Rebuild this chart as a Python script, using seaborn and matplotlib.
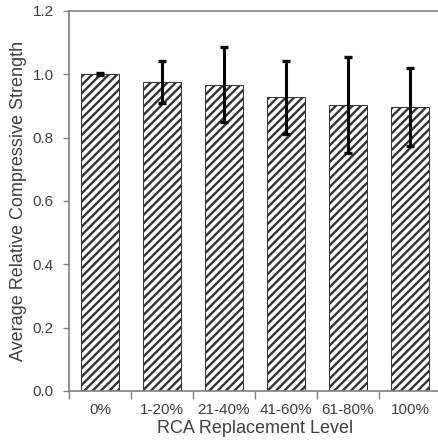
import matplotlib
matplotlib.use("Agg")
import matplotlib.pyplot as plt
import seaborn as sns
import pandas as pd

categories = ["0%", "1-20%", "21-40%", "41-60%", "61-80%", "100%"]
means = [1.000, 0.977, 0.967, 0.927, 0.903, 0.898]
errors = [0.003, 0.066, 0.118, 0.115, 0.151, 0.123]
yticks = [0.0, 0.2, 0.4, 0.6, 0.8, 1.0, 1.2]

sns.set_style("white")
plt.rcParams['font.family'] = ['Liberation Sans', 'DejaVu Sans']
plt.rcParams['hatch.linewidth'] = 1.7
plt.rcParams['hatch.color'] = 'black'

df = pd.DataFrame({"cat": categories, "val": means})

fig = plt.figure(figsize=(4.38, 4.42), dpi=100)
ax = fig.add_axes([69/438, (442-391)/442, 372/438, 380/442])

sns.barplot(data=df, x="cat", y="val", order=categories, color="white",
            edgecolor="#333333", linewidth=0.7, width=0.6, ax=ax, errorbar=None)
for p in ax.patches:
    p.set_hatch("////")
    p.set_facecolor("white")
    if hasattr(p, "set_hatchcolor"):
        p.set_hatchcolor("black")

ax.errorbar(range(len(categories)), means, yerr=errors, fmt="none",
            ecolor="black", elinewidth=2.2, capsize=2.6, capthick=2.4, zorder=5)

ax.set_xlim(-0.5, 5.5)
ax.set_ylim(0, 1.2)
ax.set_yticks(yticks)
ax.set_yticklabels([f"{t:.1f}" for t in yticks])
ax.set_xticks(range(len(categories)))
ax.set_xticklabels(categories)
ax.tick_params(axis="x", length=0, labelsize=11, labelcolor="#404040", pad=9)
ax.tick_params(axis="y", length=4, width=1, color="#808080", direction="out",
               left=True, labelsize=11, labelcolor="#404040", pad=7)
ax.set_xticks([i + 0.5 for i in range(len(categories) - 1)] + [-0.5], minor=True)
ax.tick_params(axis="x", which="minor", length=6, width=1, color="#808080",
               direction="out", bottom=True)

for s in ["left", "bottom", "top"]:
    ax.spines[s].set_color("#808080")
    ax.spines[s].set_linewidth(1.2)
ax.spines["right"].set_visible(False)

ax.set_xlabel("RCA Replacement Level", fontsize=13, color="#404040", labelpad=2)
ax.set_ylabel("Average Relative Compressive Strength", fontsize=13, color="#404040", labelpad=4)

fig.savefig("out.png", dpi=100)
